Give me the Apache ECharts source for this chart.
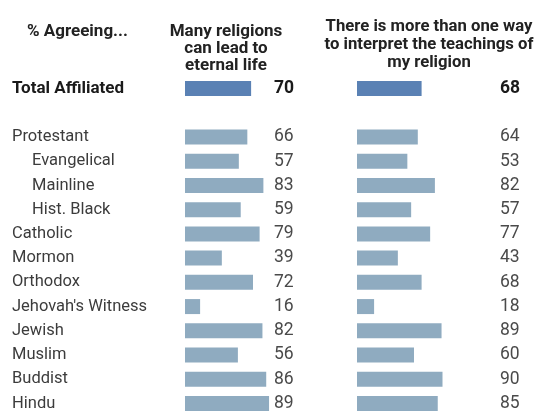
<!DOCTYPE html>
<html><head><meta charset="utf-8">
<script src="https://cdn.jsdelivr.net/npm/echarts@6/dist/echarts.min.js"></script>
<style>html,body{margin:0;padding:0;background:#fff}#c{width:540px;height:413px}</style>
</head><body><div id="c"></div>
<script>
const categories = ['Total Affiliated', '', 'Protestant', 'Evangelical', 'Mainline', 'Hist. Black', 'Catholic', 'Mormon', 'Orthodox', "Jehovah's Witness", 'Jewish', 'Muslim', 'Buddist', 'Hindu'];
const manyReligions = [70, null, 66, 57, 83, 59, 79, 39, 72, 16, 82, 56, 86, 89];
const moreThanOneWay = [68, null, 64, 53, 82, 57, 77, 43, 68, 18, 89, 60, 90, 85];
const subgroups = ['Evangelical', 'Mainline', 'Hist. Black'];
const totalRow = 'Total Affiliated';
const headerLeft = '% Agreeing...';
const headerMany = 'Many religions\ncan lead to\neternal life';
const headerWay = 'There is more than one way\nto interpret the teachings of\nmy religion';

const FONT = 'Roboto, "Noto Sans", sans-serif';
const DARK = '#5a81b4', LIGHT = '#8fabc0';

const chart = echarts.init(document.getElementById('c'), null, {renderer: 'canvas'});

function valFmt(arr) {
  return (v, i) => {
    const x = arr[i];
    if (x == null) return '';
    return v === totalRow ? '{b|' + x + '}' : '{n|' + x + '}';
  };
}
const valRich = {
  b: {fontFamily: FONT, fontSize: 17.5, fontWeight: 'bold', color: '#1a1a1a'},
  n: {fontFamily: FONT, fontSize: 17.5, color: '#4a4a4a'}
};
const hiddenAxis = {axisLine: {show: false}, axisTick: {show: false}, splitLine: {show: false}};

chart.setOption({
  animation: false,
  backgroundColor: '#fff',
  grid: [
    {left: 185, top: 76.4, height: 339.2, width: 85, outerBoundsMode: 'none', containLabel: false},
    {left: 357, top: 76.4, height: 339.2, width: 95, outerBoundsMode: 'none', containLabel: false}
  ],
  xAxis: [
    {gridIndex: 0, type: 'value', min: 0, max: 90, show: false},
    {gridIndex: 1, type: 'value', min: 0, max: 100, show: false}
  ],
  yAxis: [
    Object.assign({gridIndex: 0, type: 'category', data: categories, inverse: true, position: 'left',
      axisLabel: {margin: 173, align: 'left', formatter: (v) => {
        if (!v) return '';
        if (v === totalRow) return '{b|' + v + '}';
        if (subgroups.includes(v)) return '{s|' + v + '}';
        return '{n|' + v + '}';
      }, rich: {
        b: {fontFamily: FONT, fontSize: 17, fontWeight: 'bold', color: '#1a1a1a'},
        n: {fontFamily: FONT, fontSize: 16.5, color: '#3c3c3c'},
        s: {fontFamily: FONT, fontSize: 16.5, color: '#3c3c3c', padding: [0, 0, 0, 20]}
      }}}, hiddenAxis),
    Object.assign({gridIndex: 0, type: 'category', data: categories, inverse: true, position: 'right',
      axisLabel: {margin: 4, align: 'left', formatter: valFmt(manyReligions), rich: valRich}}, hiddenAxis),
    Object.assign({gridIndex: 1, type: 'category', data: categories, inverse: true, position: 'right',
      axisLabel: {margin: 48, align: 'left', formatter: valFmt(moreThanOneWay), rich: valRich}}, hiddenAxis)
  ],
  series: [
    {type: 'bar', xAxisIndex: 0, yAxisIndex: 0, data: manyReligions, barWidth: 15,
      itemStyle: {color: (p) => p.name === totalRow ? DARK : LIGHT}},
    {type: 'bar', xAxisIndex: 1, yAxisIndex: 2, data: moreThanOneWay, barWidth: 15,
      itemStyle: {color: (p) => p.name === totalRow ? DARK : LIGHT}}
  ],
  graphic: [
    {type: 'text', left: 27, top: 23, style: {text: headerLeft, font: 'bold 17px ' + FONT, fill: '#222'}},
    {type: 'text', x: 226, y: 23, style: {text: headerMany, x: 0, y: 0, textAlign: 'center', textVerticalAlign: 'top', font: 'bold 17px ' + FONT, lineHeight: 17, fill: '#222'}},
    {type: 'text', x: 429, y: 18, style: {text: headerWay, x: 0, y: 0, textAlign: 'center', textVerticalAlign: 'top', font: 'bold 16.7px ' + FONT, lineHeight: 18, fill: '#222'}}
  ]
});
</script>
</body></html>
